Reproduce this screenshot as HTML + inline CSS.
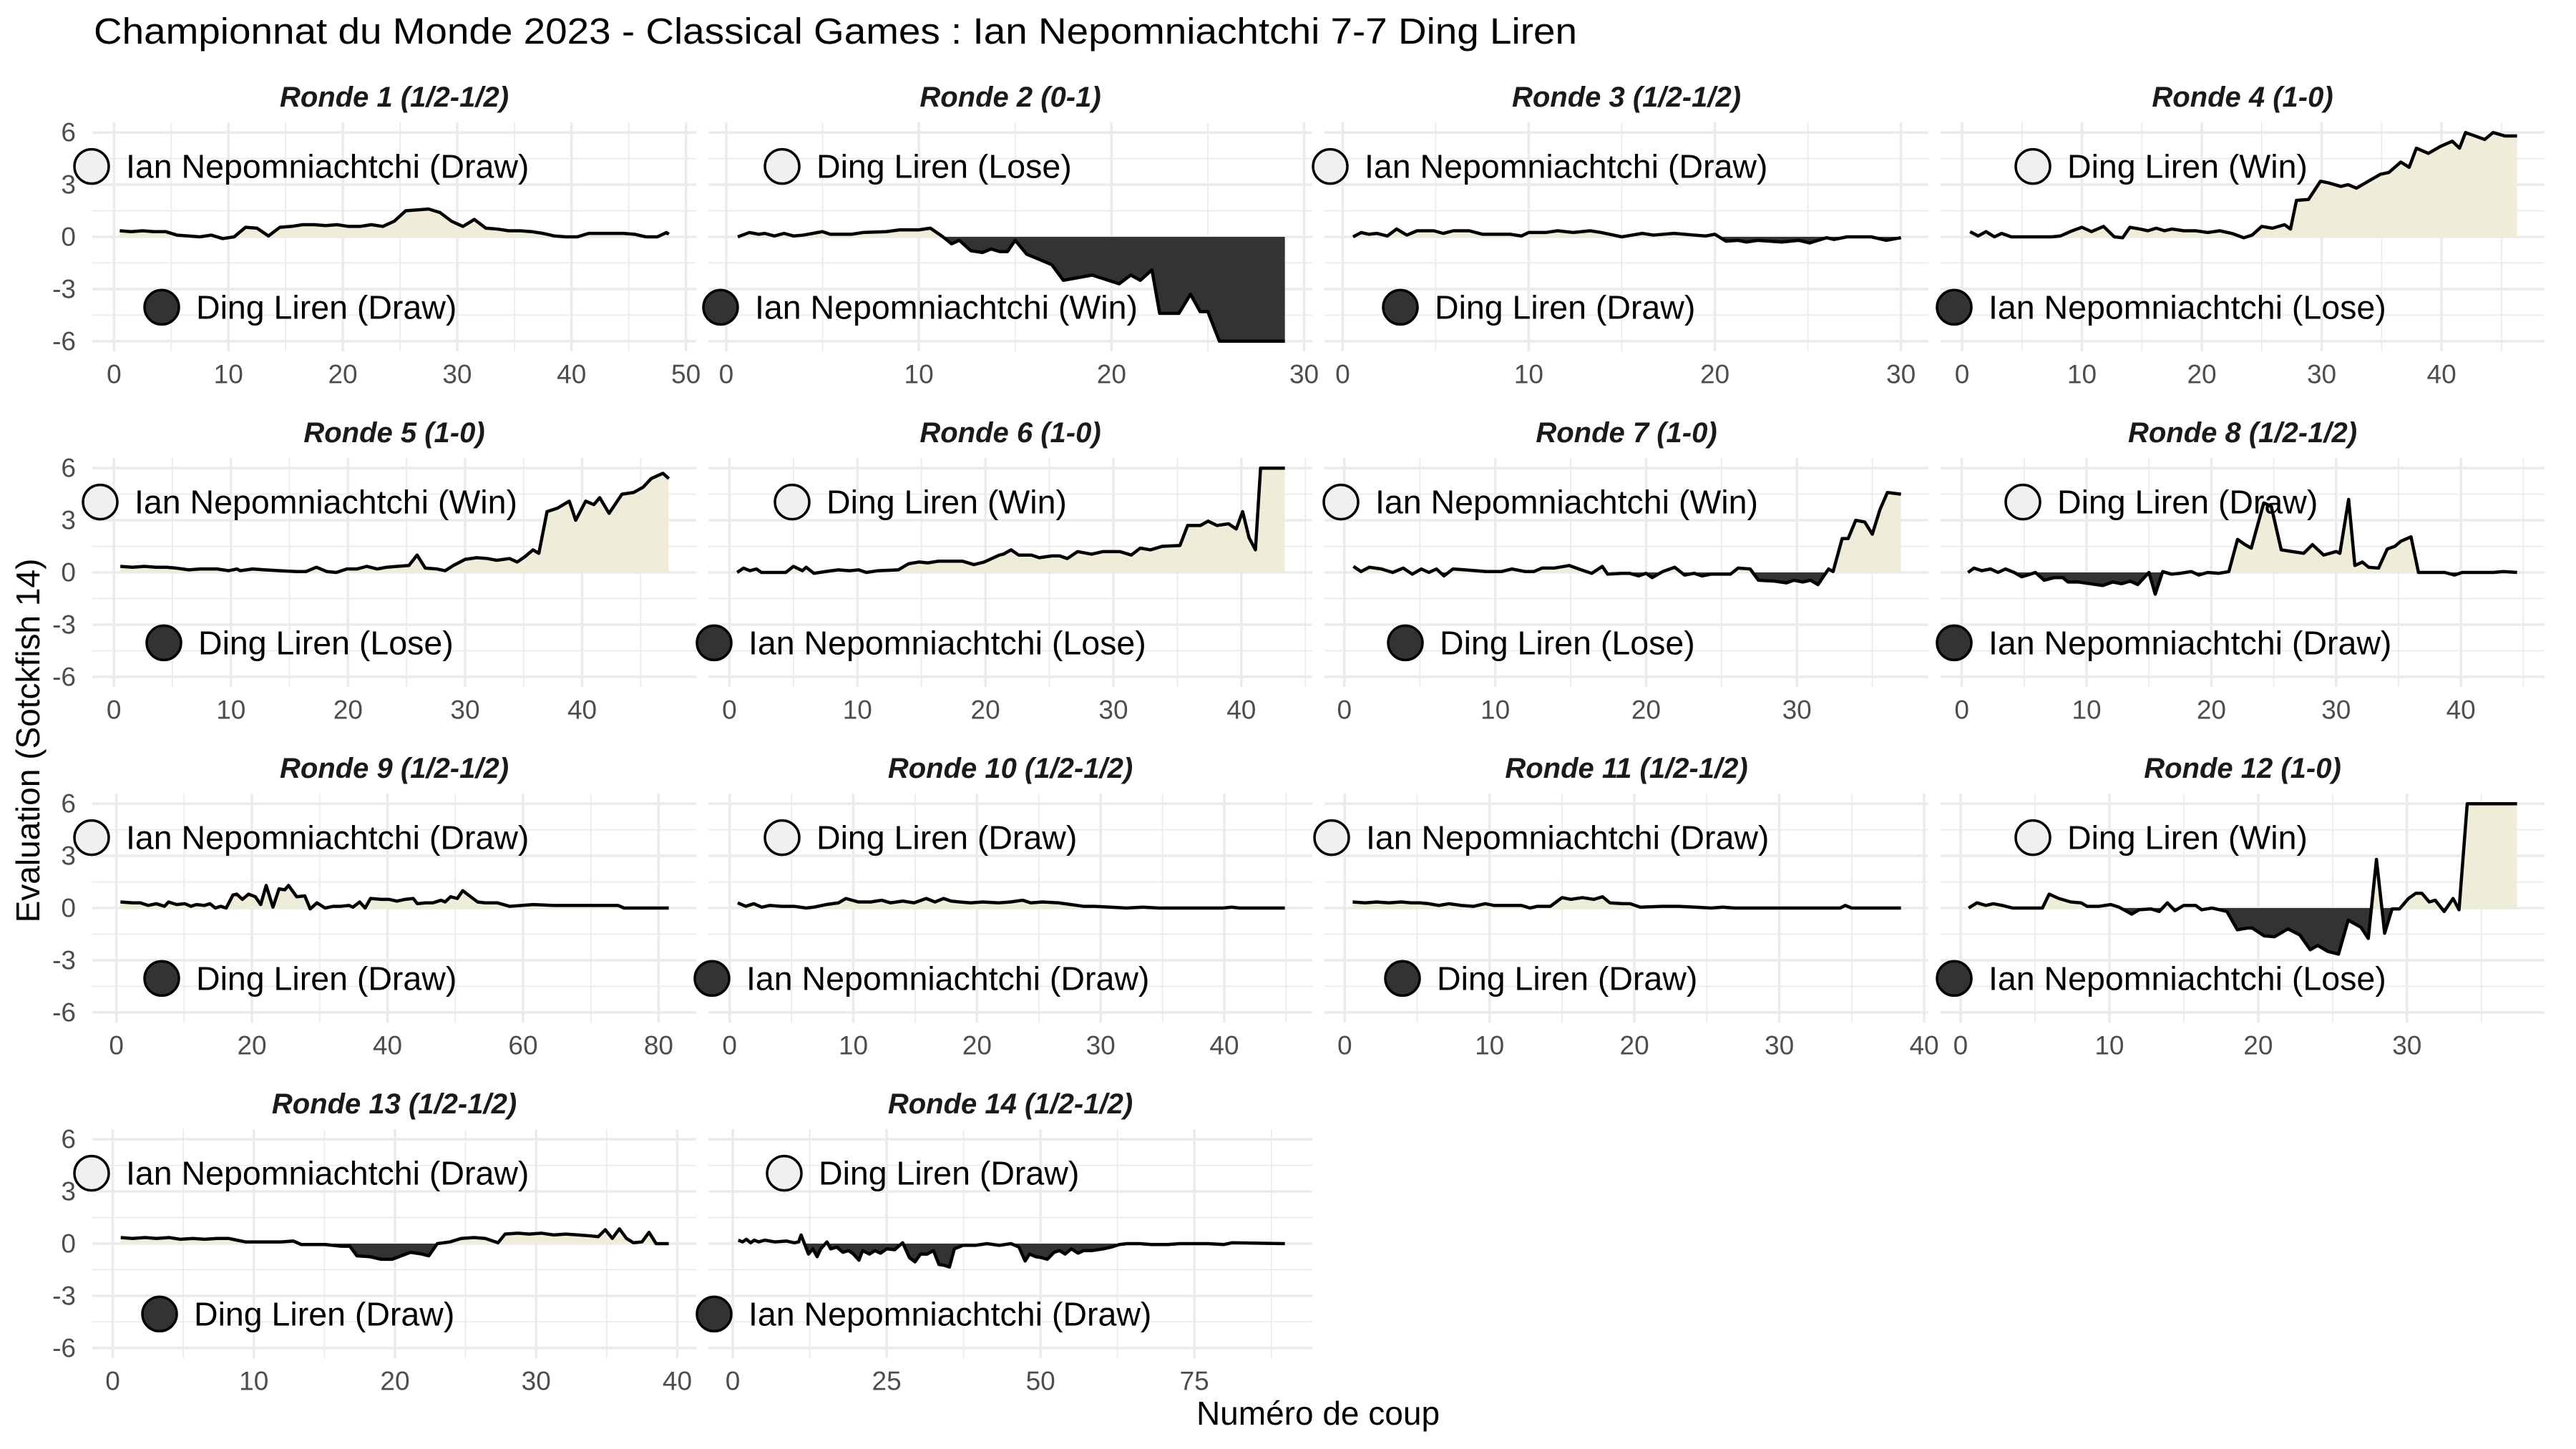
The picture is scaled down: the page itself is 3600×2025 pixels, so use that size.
<!DOCTYPE html>
<html><head><meta charset="utf-8"><title>Championnat du Monde 2023</title>
<style>html,body{margin:0;padding:0;background:#fff;}svg{display:block;font-family:"Liberation Sans",sans-serif;}</style>
</head><body>
<svg id="chart" xmlns="http://www.w3.org/2000/svg" width="3600" height="2025" viewBox="0 0 3600 2025">
<rect x="0" y="0" width="3600" height="2025" fill="#ffffff"/>
<text x="131" y="61" font-size="51" fill="#000" textLength="2073" lengthAdjust="spacingAndGlyphs">Championnat du Monde 2023 - Classical Games : Ian Nepomniachtchi 7-7 Ding Liren</text>
<text x="39" y="1035" font-size="46" fill="#000" text-anchor="middle" dominant-baseline="central" transform="rotate(-90 39 1035)">Evaluation (Sotckfish 14)</text>
<text x="1842" y="1975" font-size="46" fill="#000" text-anchor="middle" dominant-baseline="central">Numéro de coup</text>
<g id="panels"></g>
</svg>
<script>
const titles=["Ronde 1 (1/2-1/2)","Ronde 2 (0-1)","Ronde 3 (1/2-1/2)","Ronde 4 (1-0)","Ronde 5 (1-0)","Ronde 6 (1-0)","Ronde 7 (1-0)","Ronde 8 (1/2-1/2)","Ronde 9 (1/2-1/2)","Ronde 10 (1/2-1/2)","Ronde 11 (1/2-1/2)","Ronde 12 (1-0)","Ronde 13 (1/2-1/2)","Ronde 14 (1/2-1/2)"];
const whitePlayer=["Ian","Ding","Ian","Ding","Ian","Ding","Ian","Ding","Ian","Ding","Ian","Ding","Ian","Ding"];
const whiteResult=["Draw","Lose","Draw","Win","Win","Win","Win","Draw","Draw","Draw","Draw","Win","Draw","Draw"];
const blackResult=["Draw","Win","Draw","Lose","Lose","Lose","Lose","Draw","Draw","Draw","Draw","Lose","Draw","Draw"];
const xBreaks=[[0,10,20,30,40,50],[0,10,20,30],[0,10,20,30],[0,10,20,30,40],[0,10,20,30,40],[0,10,20,30,40],[0,10,20,30],[0,10,20,30,40],[0,20,40,60,80],[0,10,20,30,40],[0,10,20,30,40],[0,10,20,30],[0,10,20,30,40],[0,25,50,75]];
const yBreaks=[-6,-3,0,3,6];
const yMinor=[-4.5,-1.5,1.5,4.5];

const moves1=[0.5,1.5,2.5,3.5,4.5,5.5,6.5,7.5,8.5,9.5,10.5,11.5,12.5,13.5,14.5,15.5,16.5,17.5,18.5,19.5,20.5,21.5,22.5,23.5,24.5,25.5,26.5,27.5,28.5,29.5,30.5,31.5,32.5,33.5,34.5,35.5,36.5,37.5,38.5,39.5,40.5,41.5,42.5,43.5,44.5,45.5,46.5,47.5,48.3,48.5];
const evals1=[0.35,0.3,0.35,0.3,0.3,0.1,0.05,0,0.1,-0.1,0,0.55,0.5,0.05,0.55,0.6,0.7,0.7,0.65,0.7,0.6,0.6,0.7,0.6,0.9,1.5,1.55,1.6,1.4,0.9,0.6,1.0,0.5,0.45,0.35,0.35,0.3,0.2,0.05,0,0,0.2,0.2,0.2,0.2,0.15,0,0,0.25,0.15];
const moves2=[0.6,1.2,1.7,2.0,2.5,3.0,3.5,4.0,5.0,5.4,6.5,7.1,8.3,9.0,10.0,10.6,11.25,11.7,12.1,12.7,13.3,13.75,14.2,14.6,15.0,15.6,16.25,16.9,17.5,19.0,20.4,21.0,21.5,22.1,22.5,23.5,24.1,24.6,25.0,25.6,29.0];
const evals2=[0,0.25,0.15,0.2,0.05,0.2,0.05,0.1,0.3,0.15,0.15,0.25,0.3,0.4,0.4,0.5,0,-0.4,-0.2,-0.8,-0.9,-0.7,-0.85,-0.85,-0.2,-1,-1.3,-1.6,-2.5,-2.2,-2.7,-2.2,-2.5,-1.9,-4.4,-4.4,-3.3,-4.3,-4.3,-6,-6];
const moves3=[0.56,1.0,1.4,1.85,2.4,2.9,3.45,4.0,4.9,5.4,5.95,6.8,7.5,9.0,9.6,10.0,10.9,11.55,12.4,13.3,13.9,15.0,16.1,16.7,17.8,18.9,19.5,20.0,20.6,21.25,21.7,22.3,23.6,24.5,25.1,26.0,26.4,27.1,28.4,29.2,30.0];
const evals3=[0,0.25,0.15,0.2,0.05,0.45,0.1,0.35,0.35,0.2,0.35,0.35,0.15,0.15,0.05,0.25,0.25,0.35,0.25,0.35,0.25,0,0.2,0.1,0.2,0.1,0.05,0.15,-0.25,-0.2,-0.3,-0.2,-0.3,-0.2,-0.35,-0.05,-0.15,0,0,-0.2,-0.05];
const moves4=[0.67,1.34,2.0,2.7,3.3,4.1,7.5,8.2,9.2,10.0,10.8,11.8,12.7,13.4,14.0,14.85,15.5,16.2,16.9,17.5,18.5,19.5,20.5,21.5,22.5,23.5,24.2,25.0,25.9,26.9,27.4,27.9,28.9,29.9,30.6,31.6,32.2,32.9,33.9,34.9,35.6,36.6,37.3,37.9,38.9,39.9,40.9,41.5,42.0,42.8,43.6,44.3,45.3,46.3];
const evals4=[0.3,0.05,0.3,0,0.2,0,0,0.05,0.35,0.55,0.3,0.6,0,-0.05,0.55,0.45,0.35,0.5,0.35,0.45,0.35,0.35,0.25,0.35,0.2,-0.05,0.1,0.6,0.5,0.7,0.45,2.1,2.15,3.2,3.1,2.9,3.0,2.8,3.2,3.6,3.7,4.3,4.0,5.1,4.8,5.2,5.5,5.1,6.0,5.8,5.6,6.0,5.8,5.8];
const moves5=[0.55,1.6,2.6,3.6,4.5,5.3,6.4,7.4,8.8,9.8,10.5,10.8,11.85,12.9,14.2,15.6,16.4,17.3,18.2,19.0,19.9,20.75,21.6,22.5,23.3,24.2,25.2,25.9,26.6,27.6,28.3,29.0,30.0,31.0,31.9,32.7,33.8,34.45,35.1,35.8,36.3,37.0,37.9,38.9,39.45,40.3,41.0,41.5,42.3,43.4,44.4,45.2,45.9,46.9,47.4];
const evals5=[0.35,0.3,0.35,0.3,0.3,0.25,0.15,0.2,0.2,0.1,0.2,0.1,0.2,0.15,0.1,0.05,0.05,0.3,0.05,0,0.2,0.2,0.35,0.2,0.3,0.35,0.4,1.0,0.25,0.2,0.1,0.4,0.75,0.85,0.8,0.7,0.8,0.6,0.9,1.3,1.1,3.5,3.7,4.1,3.0,4.1,3.9,4.3,3.4,4.5,4.6,4.9,5.4,5.7,5.4];
const moves6=[0.6,1.1,1.6,2.1,2.5,4.4,5.0,5.7,6.0,6.6,7.5,8.5,9.4,10.1,10.7,11.6,13.2,14.0,14.8,15.5,16.35,18.2,19.1,19.9,21.1,21.4,22.0,22.6,23.6,24.2,25.2,25.8,26.4,27.2,28.3,29.2,30.5,31.4,32.1,32.9,33.8,35.2,35.8,36.8,37.4,38.1,39.0,39.6,40.1,40.6,41.1,41.5,43.4];
const evals6=[0,0.25,0.1,0.2,0,0,0.35,0.1,0.3,-0.05,0.05,0.15,0.1,0.15,0,0.1,0.15,0.5,0.6,0.55,0.65,0.65,0.45,0.6,1.0,1.05,1.3,1.0,1.0,0.85,0.95,0.95,0.8,1.2,1.05,1.2,1.2,1.0,1.4,1.3,1.5,1.55,2.7,2.7,2.95,2.7,2.8,2.5,3.5,2.0,1.3,6.0,6.0];
const moves7=[0.6,1.1,1.65,2.45,3.2,3.9,4.5,5.1,5.6,6.1,6.6,7.2,8.0,9.4,10.4,11.1,12.0,12.55,13.1,13.9,14.9,15.7,16.4,17.1,17.45,18.4,18.9,19.5,20.0,20.4,21.1,21.9,22.55,23.2,23.7,24.3,25.6,26.1,26.9,27.45,28.5,29.3,29.8,30.4,30.9,31.4,32.1,32.4,33.0,33.4,33.9,34.5,35.0,35.5,36.0,36.9];
const evals7=[0.35,0.05,0.3,0.2,0,0.25,-0.1,0.2,0,0.2,-0.2,0.2,0.15,0.05,0.05,0.2,0.05,0.05,0.25,0.25,0.4,0.15,-0.05,0.35,-0.1,-0.05,-0.05,-0.2,-0.05,-0.3,0.05,0.3,-0.15,-0.05,-0.2,-0.1,-0.1,0.25,0.2,-0.45,-0.5,-0.6,-0.45,-0.55,-0.45,-0.7,0.2,0.05,1.95,1.95,3.0,2.9,2.2,3.6,4.6,4.5];
const moves8=[0.5,0.97,1.6,2.3,2.9,3.5,4.2,4.8,5.5,5.9,6.6,7.4,8.1,8.5,9.35,10.3,11.3,12.1,12.8,13.5,14.1,15.0,15.5,16.1,16.8,17.5,18.4,19.0,19.7,20.6,21.4,22.1,22.7,23.2,24.2,24.8,25.6,26.5,27.4,28.1,29.0,30.0,30.3,31.0,31.5,32.1,32.6,33.4,34.1,34.7,35.2,36.0,36.6,38.7,39.5,40.1,42.6,43.4,44.5];
const evals8=[0,0.25,0.1,0.2,0,0.2,0,-0.25,-0.1,0,-0.45,-0.3,-0.3,-0.55,-0.55,-0.65,-0.75,-0.55,-0.65,-0.5,-0.7,0,-1.25,0.05,-0.1,-0.05,0.05,-0.15,0,-0.05,0.05,1.9,1.6,1.4,4.0,3.8,1.3,1.2,1.1,1.6,1.0,1.2,1.1,4.2,0.4,0.6,0.3,0.25,1.35,1.5,1.8,2.05,0,0,-0.15,0,0,0.05,0];
const moves9=[0.6,2.4,3.55,4.7,5.9,7.1,7.7,8.9,10.1,11.0,11.8,13.0,13.8,14.6,15.4,16.2,17.2,17.75,18.6,19.5,20.5,21.3,22.1,23.1,24.0,24.85,25.4,26.6,27.8,28.6,29.6,30.8,32.0,33.1,34.3,34.9,35.9,36.7,37.5,39.1,40.2,41.4,42.6,43.8,44.4,45.6,46.7,47.9,48.5,49.3,50.3,51.1,52.1,53.3,54.4,56.2,58.0,59.8,61.5,64.5,66.9,69.2,74.0,74.9,81.5];
const evals9=[0.35,0.3,0.3,0.15,0.25,0.1,0.35,0.2,0.25,0.1,0.2,0.15,0.25,0,0.1,0,0.75,0.8,0.5,0.8,0.65,0.2,1.3,0.05,1.1,1.05,1.3,0.65,0.7,-0.05,0.3,0,0.1,0.1,0.15,0.05,0.35,0,0.55,0.5,0.5,0.4,0.5,0.55,0.25,0.3,0.3,0.45,0.35,0.65,0.55,1.0,0.7,0.35,0.3,0.3,0.1,0.15,0.2,0.15,0.15,0.15,0.15,0,0];
const moves10=[0.65,1.3,1.95,2.6,3.25,4.2,5.2,6.2,6.8,7.8,8.8,9.4,10.4,11.4,12.3,13.0,14.0,14.9,15.9,16.6,17.3,17.9,18.6,19.5,20.45,21.75,22.7,23.7,24.35,25.3,26.6,27.6,28.6,29.5,30.8,32.1,33.4,34.7,39.9,40.6,41.2,44.9];
const evals10=[0.3,0.1,0.25,0.05,0.15,0.1,0.1,0,0.05,0.2,0.3,0.55,0.35,0.35,0.45,0.3,0.4,0.3,0.55,0.35,0.55,0.4,0.35,0.3,0.35,0.3,0.35,0.45,0.3,0.35,0.3,0.2,0.1,0.1,0.05,0,0.05,0,0,0.05,0,0];
const moves11=[0.55,1.4,2.2,3.05,3.9,4.6,5.2,5.8,6.5,7.2,8.05,8.9,9.7,10.3,12.2,12.8,13.3,14.2,15.0,15.6,16.4,17.2,17.8,18.3,19.2,19.7,20.4,21.9,23.05,24.2,25.3,26.1,26.9,34.2,34.55,35.0,38.4];
const evals11=[0.35,0.3,0.35,0.3,0.35,0.3,0.3,0.25,0.15,0.25,0.15,0.1,0.25,0.15,0.15,0,0.1,0.1,0.6,0.5,0.6,0.5,0.65,0.3,0.25,0.25,0.05,0.1,0.1,0.05,0,0.05,0,0,0.15,0,0];
const moves12=[0.54,1.1,1.7,2.2,2.8,3.5,5.5,5.95,6.6,7.4,8.1,8.5,9.3,10.1,10.65,11.5,12.0,12.8,13.35,13.9,14.4,15.0,15.8,16.2,16.9,17.4,17.9,18.6,19.3,19.6,20.4,21.1,22.0,22.8,23.5,24.0,24.7,25.4,26.05,26.9,27.4,27.95,28.5,29.0,29.5,30.1,30.6,31.0,31.5,31.9,32.5,33.1,33.5,34.05,37.4];
const evals12=[0,0.3,0.15,0.25,0.15,0,0,0.8,0.55,0.35,0.3,0.1,0.1,0.2,0.05,-0.35,-0.1,-0.05,-0.2,0.3,-0.15,0.15,0.15,-0.1,0,-0.1,-0.2,-1.25,-1.15,-1.15,-1.6,-1.65,-1.2,-1.55,-2.4,-2.15,-2.5,-2.65,-0.7,-1.1,-1.75,2.8,-1.45,-0.05,-0.05,0.55,0.85,0.85,0.35,0.45,-0.2,0.55,-0.1,6,6];
const moves13=[0.57,1.4,2.3,3.1,4.0,4.8,5.7,6.5,7.4,8.2,8.8,9.4,10.2,11.1,11.9,12.8,13.35,14.2,15.05,16.2,16.8,17.3,18.2,19.0,19.8,20.45,21.1,21.9,22.4,23.0,23.9,24.7,25.6,26.4,27.3,27.8,28.7,29.5,30.4,31.25,32.1,33.0,33.8,34.4,34.9,35.4,35.9,36.4,36.9,37.5,38.0,38.5,39.4];
const evals13=[0.35,0.3,0.35,0.3,0.35,0.25,0.3,0.25,0.3,0.3,0.2,0.1,0.1,0.1,0.1,0.15,-0.05,-0.05,-0.05,-0.15,-0.15,-0.7,-0.75,-0.9,-0.9,-0.7,-0.5,-0.6,-0.7,0,0.1,0.3,0.35,0.3,0.05,0.55,0.6,0.55,0.6,0.5,0.55,0.5,0.45,0.4,0.8,0.3,0.85,0.3,0.05,0.1,0.65,0,0];
const moves14=[0.9,1.6,2.2,2.9,3.5,4.2,5.2,6.8,8.7,10.0,10.7,11.1,11.7,12.3,13.0,13.7,14.3,15.3,15.9,16.9,17.9,18.8,19.6,20.5,21.1,22.2,23.1,24.0,25.0,26.3,27.6,28.7,29.6,30.5,31.6,32.6,33.5,34.4,35.2,36.0,37.4,39.4,41.3,43.3,45.2,46.5,47.5,48.2,49.2,50.1,51.1,52.2,53.1,54.0,55.0,56.1,57.0,58.3,60.2,61.5,62.8,64.1,66.1,68.0,70.7,72.6,74.6,77.2,79.8,81.1,89.7];
const evals14=[0.2,0.1,0.25,0.05,0.2,0.1,0.2,0.1,0.15,0.05,0.1,0.5,-0.05,-0.6,-0.3,-0.75,-0.3,0.1,-0.3,-0.2,-0.5,-0.4,-0.6,-0.95,-0.4,-0.6,-0.4,-0.55,-0.3,-0.35,0.05,-0.8,-1.05,-0.6,-0.6,-0.4,-1.2,-1.25,-1.35,-0.3,-0.1,-0.1,0,-0.1,0,-0.2,-1.0,-0.6,-0.75,-0.8,-0.9,-0.5,-0.4,-0.6,-0.3,-0.55,-0.4,-0.4,-0.3,-0.2,-0.05,0,0,-0.05,-0.05,0,0,0,-0.05,0.05,0];

const allMoves=[moves1,moves2,moves3,moves4,moves5,moves6,moves7,moves8,moves9,moves10,moves11,moves12,moves13,moves14];
const allEvals=[evals1,evals2,evals3,evals4,evals5,evals6,evals7,evals8,evals9,evals10,evals11,evals12,evals13,evals14];

const NS="http://www.w3.org/2000/svg";
const root=document.getElementById('panels');
function mk(tag,attrs,parent){const e=document.createElementNS(NS,tag);for(const k in attrs)e.setAttribute(k,attrs[k]);(parent||root).appendChild(e);return e;}
const ianOff=[-1,17,8,19,11,8,23,19,-1,5,10,19,-1,8];
const dingOff=[97,103,106,129,100,117,113,115,97,103,109,129,94,106];
const PW=844, U=24.3, GRID="#ebebeb";
const defs=mk('defs',{});

for(let i=0;i<14;i++){
  const r=Math.floor(i/4), c=i%4;
  const L=129+c*861, R=L+PW, z=331+r*469, T=z-160, B=z+160;
  const xs=allMoves[i], ys=allEvals[i];
  const xmin=Math.min(0.5,...xs), xmax=Math.max(...xs), D=xmax-xmin;
  const xlo=xmin-0.05*D, xhi=xmax+0.05*D;
  const sx=v=>L+(v-xlo)/(xhi-xlo)*PW;
  const sy=v=>z-v*U;
  const g=mk('g',{});
  
  
  const br=xBreaks[i], step=br[1]-br[0];
  const minors=[];
  for(let k=-1;k<br.length;k++){const m=br[0]+(k+0.5)*step; if(m>=xlo&&m<=xhi)minors.push(m);}
  yMinor.forEach(v=>{const l=mk('line',{x1:L,x2:R,y1:sy(v),y2:sy(v),stroke:GRID,'stroke-width':1.8},g);
    
    });
  minors.forEach(v=>{const l=mk('line',{x1:sx(v),x2:sx(v),y1:T,y2:B,stroke:GRID,'stroke-width':1.8},g);
    
    });
  yBreaks.forEach(v=>{const l=mk('line',{x1:L,x2:R,y1:sy(v),y2:sy(v),stroke:GRID,'stroke-width':3.6},g);
    
    });
  br.forEach(v=>{if(v<xlo||v>xhi)return;
    const l=mk('line',{x1:sx(v),x2:sx(v),y1:T,y2:B,stroke:GRID,'stroke-width':3.6},g);
    
    
    const t=mk('text',{x:sx(v),y:z+192,'font-size':37,fill:'#4d4d4d','text-anchor':'middle','dominant-baseline':'central'},g);
    t.textContent=String(v);
    
    });
  if(c===0){yBreaks.forEach(v=>{const t=mk('text',{x:106,y:sy(v),'font-size':37,fill:'#4d4d4d','text-anchor':'end','dominant-baseline':'central'},g);
    t.textContent=String(v);
    
    });}
  const st=mk('text',{x:(L+R)/2,y:136+r*469,'font-size':40,'font-weight':'bold','font-style':'italic',fill:'#1a1a1a','text-anchor':'middle','dominant-baseline':'central'},g);
  st.textContent=titles[i];
  
  
  let d='M'+sx(xs[0])+' '+sy(0);
  xs.forEach((x,k)=>{d+=' L'+sx(x)+' '+sy(ys[k]);});
  d+=' L'+sx(xs[xs.length-1])+' '+sy(0)+' Z';
  const cpPos=mk('clipPath',{id:'pos'+i},defs); mk('rect',{x:L,y:T-50,width:PW,height:z-T+50},cpPos);
  const cpNeg=mk('clipPath',{id:'neg'+i},defs); mk('rect',{x:L,y:z,width:PW,height:B-z+50},cpNeg);
  const ap=mk('path',{d:d,fill:'#efedd9','clip-path':'url(#pos'+i+')'},g);
  
  
  const an=mk('path',{d:d,fill:'#333333','clip-path':'url(#neg'+i+')'},g);
  
  
  let ld='';
  xs.forEach((x,k)=>{ld+=(k?' L':'M')+sx(x)+' '+sy(ys[k]);});
  const line=mk('path',{d:ld,fill:'none',stroke:'#000','stroke-width':4.5,'stroke-linejoin':'round'},g);
  
  
  const wIan=whitePlayer[i]==='Ian';
  const wName=wIan?'Ian Nepomniachtchi':'Ding Liren', bName=wIan?'Ding Liren':'Ian Nepomniachtchi';
  const wx=L+(wIan?ianOff[i]:dingOff[i]), bx=L+(wIan?dingOff[i]:ianOff[i]);
  const wy=sy(4.05), by=sy(-4.05);
  const wc=mk('circle',{cx:wx,cy:wy,r:24,fill:'#f0f0f0',stroke:'#000','stroke-width':3.5},g);
  
  
  const wt=mk('text',{x:wx+48,y:wy,'font-size':46.5,fill:'#000','dominant-baseline':'central'},g);
  wt.textContent=wName+' ('+whiteResult[i]+')';
  
  
  const bc=mk('circle',{cx:bx,cy:by,r:24,fill:'#333333',stroke:'#000','stroke-width':3.5},g);
  
  
  const bt=mk('text',{x:bx+48,y:by,'font-size':46.5,fill:'#000','dominant-baseline':'central'},g);
  bt.textContent=bName+' ('+blackResult[i]+')';
  
  
}
</script>
</body></html>
